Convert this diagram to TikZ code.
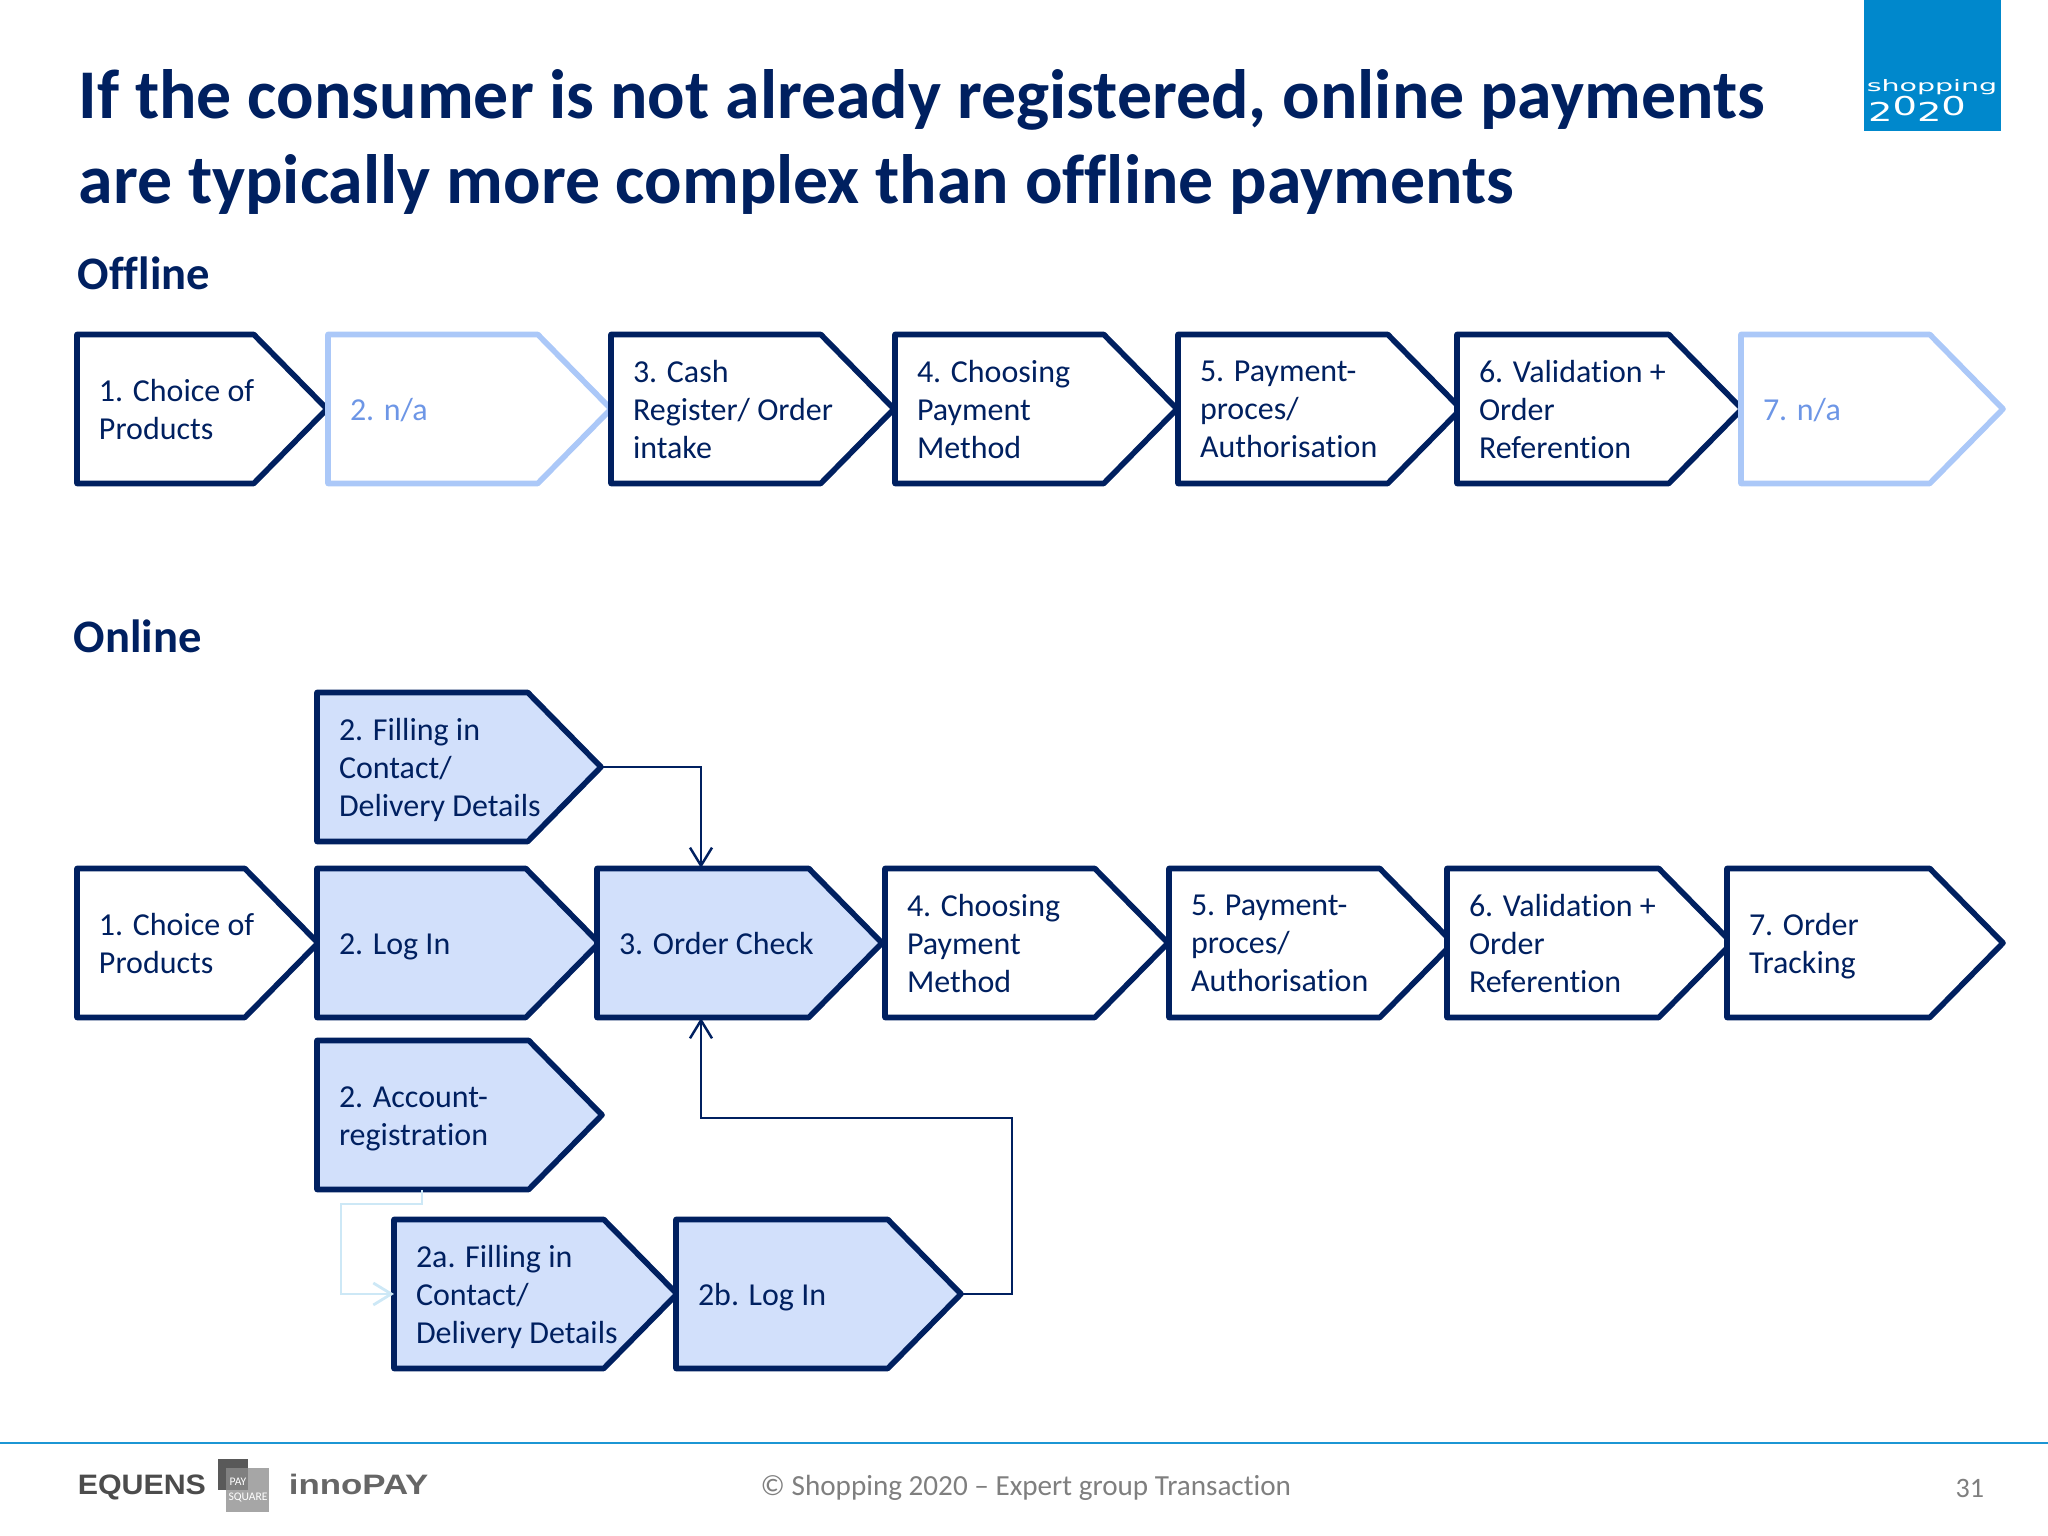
\documentclass[tikz,border=0pt]{standalone}
\usepackage{fontspec}
\setmainfont{Carlito}[Ligatures={TeX,NoCommon}]
\newfontfamily\logofont{DejaVu Sans}
\newfontfamily\brandfont{Liberation Sans}
\usetikzlibrary{positioning, shapes.symbols, arrows.meta}

\definecolor{navy}{HTML}{002060}
\definecolor{lightfill}{HTML}{D2E0FB}
\definecolor{paleline}{HTML}{ABC8F8}
\definecolor{natext}{HTML}{6D96E6}
\definecolor{paleconn}{HTML}{CDE8F6}
\definecolor{logoblue}{HTML}{0088CC}
\definecolor{ruleblue}{HTML}{1C96D4}
\definecolor{footgray}{HTML}{7F7F7F}

\tikzset{
    stepbase/.style={signal, signal to=east, signal pointer angle=91, minimum height=1.49cm,
        inner sep=0pt, outer sep=0pt, line width=1.6pt, anchor=west, line join=round},
    stepplain/.style={stepbase, draw=navy, fill=white},
    steppale/.style={stepbase, draw=paleline, fill=white},
    stepfill/.style={stepbase, draw=navy, fill=lightfill},
    steptext/.style={inner sep=0pt, outer sep=0pt, align=left, text=navy, yshift=-0.06cm,
        font=\fontsize{9.1}{10.8}\selectfont, execute at begin node=\strut, execute at end node=\strut},
    conn/.style={draw=navy, line width=0.7pt, -{Straight Barb[length=1.8mm, width=2.2mm]}},
    headline/.style={anchor=base west, inner sep=0pt, text=navy, font=\bfseries\fontsize{13.25}{15}\selectfont},
}

\begin{document}
\begin{tikzpicture}
    \useasboundingbox (0,0) rectangle (20.48,15.36);

    % title and logo
    \node (title) at (0.78,13.32) [anchor=base west, inner sep=0pt, align=left, text=navy,
        font=\bfseries\fontsize{19.87}{24.2}\selectfont]
        {If the consumer is not already registered, online payments\\are typically more complex than offline payments};
    \fill[logoblue] (18.64,15.36) rectangle (20.01,14.05);
    \node (logotop) at (19.32,14.49) [text=white, inner sep=0pt, xscale=1.8, font=\logofont\fontsize{4.5}{4.5}\selectfont] {shopping};
    \node (logoyear) at (19.17,14.27) [text=white, inner sep=0pt, xscale=1.48, font=\logofont\fontsize{7.4}{7.4}\selectfont]
        {2\raisebox{1.7pt}{0}2\raisebox{1.7pt}{0}};

    \node (offline) at (0.77,12.46) [headline] {Offline};
    \node (online) at (0.73,8.83) [headline] {Online};

    % offline row
    \foreach \nm/\xa/\wdt/\sty/\txt in {
        off1/0.77/2.50/stepplain/{1. Choice of\\Products},
        off2/3.28/2.83/steppale/{\raisebox{0.7pt}{\textcolor{natext}{2. n/a}}},
        off3/6.11/2.83/stepplain/{3. Cash\\Register/ Order\\intake},
        off4/8.95/2.82/stepplain/{4. Choosing\\Payment\\Method},
        off5/11.78/2.83/stepplain/{5. Payment-\\proces/\\Authorisation},
        off6/14.57/2.85/stepplain/{6. Validation +\\Order\\Referention},
        off7/17.41/2.62/steppale/{\raisebox{0.7pt}{\textcolor{natext}{7. n/a}}}}{
        \node (\nm) at (\xa,11.27) [\sty, minimum width=\wdt cm] {};
        \node (\nm t) [steptext, anchor=west, right=0.22cm of \nm.west] {\txt};
    }

    % online row
    \foreach \nm/\xa/\wdt/\yy/\sty/\txt in {
        on1/0.77/2.41/5.93/stepplain/{1. Choice of\\Products},
        on2/3.17/2.82/5.93/stepfill/{\raisebox{0.7pt}{2. Log In}},
        on3/5.97/2.85/5.93/stepfill/{\raisebox{0.7pt}{3. Order Check}},
        on4/8.85/2.83/5.93/stepplain/{4. Choosing\\Payment\\Method},
        on5/11.69/2.84/5.93/stepplain/{5. Payment-\\proces/\\Authorisation},
        on6/14.47/2.85/5.93/stepplain/{6. Validation +\\Order\\Referention},
        on7/17.27/2.76/5.93/stepplain/{7. Order\\Tracking},
        contact/3.17/2.84/7.69/stepfill/{2. Filling in\\Contact/\\Delivery Details},
        account/3.17/2.85/4.21/stepfill/{\raisebox{-0.7pt}{2. Account-}\\\raisebox{-0.7pt}{registration}},
        fill2a/3.94/2.83/2.42/stepfill/{2a. Filling in\\Contact/\\Delivery Details},
        login2b/6.76/2.85/2.42/stepfill/{\raisebox{0.7pt}{2b. Log In}}}{
        \node (\nm) at (\xa,\yy) [\sty, minimum width=\wdt cm] {};
        \node (\nm t) [steptext, anchor=west, right=0.22cm of \nm.west] {\txt};
    }

    % connectors
    \coordinate (ordertop) at (7.01,6.68);
    \coordinate (orderbot) at (7.01,5.18);
    \coordinate (turn) at (10.12,4.18);
    \coordinate (accbot) at (4.22,3.46);
    \coordinate (accbend) at (3.41,3.32);
    \draw[conn] (contact.east) -| (ordertop);
    \draw[conn] (login2b.east) -| (turn) -| (orderbot);
    \draw[conn, draw=paleconn, line width=0.8pt] (accbot) |- (accbend) |- (fill2a.west);

    % footer
    \draw[ruleblue, line width=0.8pt] (0,0.93) -- (20.48,0.93);
    \node (eq) at (0.77,0.41) [anchor=base west, inner sep=0pt, text=black!70, xscale=1.08,
        font=\brandfont\bfseries\fontsize{8}{8}\selectfont] {EQUENS};
    \fill[black!65] (2.18,0.77) rectangle (2.48,0.46);
    \fill[black!35] (2.26,0.68) rectangle (2.69,0.24);
    \fill[black!50] (2.26,0.68) rectangle (2.48,0.46);
    \node (pay) at (2.38,0.54) [text=white, inner sep=0pt, font=\fontsize{3.3}{3.3}\selectfont] {PAY};
    \node (square) at (2.48,0.38) [text=white, inner sep=0pt, font=\fontsize{3.3}{3.3}\selectfont] {SQUARE};
    \node (inno) at (2.88,0.41) [anchor=base west, inner sep=0pt, text=black!60, xscale=1.24,
        font=\brandfont\bfseries\fontsize{8}{8}\selectfont] {innoPAY};
    \node (copy) at (7.60,0.40) [anchor=base west, inner sep=0pt, text=footgray,
        font=\fontsize{8.3}{10}\selectfont] {© Shopping 2020 – Expert group Transaction};
    \node (pageno) at (19.55,0.38) [anchor=base west, inner sep=0pt, text=footgray,
        font=\fontsize{8}{10}\selectfont] {31};
\end{tikzpicture}
\end{document}
